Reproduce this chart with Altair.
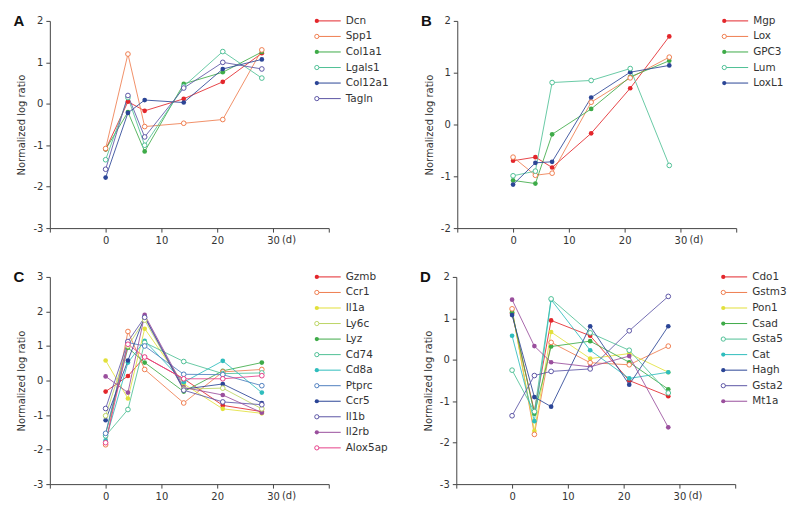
import altair as alt
import pandas as pd

days = [0, 4, 7, 14, 21, 28]

# Panel A
a_genes = ["Dcn", "Spp1", "Col1a1", "Lgals1", "Col12a1", "Tagln"]
a_filled = [True, False, True, False, True, False]
a_colors = ["#e3262b", "#ef7d4f", "#3eab48", "#4fc096", "#2b4596", "#5c55a5"]
a_dcn = [-1.10, 0.05, -0.17, 0.12, 0.53, 1.22]
a_spp1 = [-1.08, 1.20, -0.55, -0.47, -0.38, 1.30]
a_col1a1 = [-1.10, -0.20, -1.15, 0.48, 0.76, 1.25]
a_lgals1 = [-1.35, 0.15, -1.00, 0.42, 1.26, 0.62]
a_col12a1 = [-1.78, -0.22, 0.09, 0.03, 0.84, 1.07]
a_tagln = [-1.58, 0.20, -0.80, 0.38, 1.00, 0.84]
a_values = [a_dcn, a_spp1, a_col1a1, a_lgals1, a_col12a1, a_tagln]

# Panel B
b_genes = ["Mgp", "Lox", "GPC3", "Lum", "LoxL1"]
b_filled = [True, False, True, False, True]
b_colors = ["#e3262b", "#ef7d4f", "#3eab48", "#4fc096", "#2b4596"]
b_mgp = [-0.70, -0.63, -0.83, -0.17, 0.70, 1.70]
b_lox = [-0.63, -0.98, -0.94, 0.43, 0.90, 1.30]
b_gpc3 = [-1.08, -1.14, -0.19, 0.30, 0.92, 1.23]
b_lum = [-0.99, -0.90, 0.81, 0.85, 1.08, -0.79]
b_loxl1 = [-1.16, -0.74, -0.72, 0.52, 1.01, 1.14]
b_values = [b_mgp, b_lox, b_gpc3, b_lum, b_loxl1]

# Panel C
c_genes = ["Gzmb", "Ccr1", "Il1a", "Ly6c", "Lyz", "Cd74", "Cd8a", "Ptprc",
           "Ccr5", "Il1b", "Il2rb", "Alox5ap"]
c_filled = [True, False, True, False, True, False, True, False, True, False, True, False]
c_colors = ["#e3262b", "#ef7d4f", "#e2e03a", "#bcd565", "#3eab48", "#4fc096",
            "#2fbdbd", "#4f7fbf", "#2b4596", "#5c55a5", "#9a4f9d", "#e6408a"]
c_gzmb = [-0.32, 0.13, 0.68, 0.05, -0.72, -0.90]
c_ccr1 = [-1.86, 1.42, 0.32, -0.65, 0.25, 0.32]
c_il1a = [0.58, -0.52, 1.50, -0.10, -0.82, -0.95]
c_ly6c = [-1.02, 1.00, 1.75, -0.25, -0.22, -0.82]
c_lyz = [-1.55, 0.95, 0.52, -0.32, 0.28, 0.52]
c_cd74 = [-1.60, -0.84, 1.10, 0.55, 0.20, 0.22]
c_cd8a = [-1.73, 0.52, 1.15, -0.05, 0.57, -0.35]
c_ptprc = [-1.53, 1.10, 1.00, 0.18, 0.17, -0.15]
c_ccr5 = [-1.15, 0.58, 1.85, -0.25, -0.10, -0.65]
c_il1b = [-0.81, 1.13, 1.83, -0.28, -0.62, -0.70]
c_il2rb = [0.12, -0.35, 1.90, -0.20, -0.42, -0.93]
c_alox5ap = [-1.80, 1.05, 0.68, 0.05, 0.05, 0.14]
c_values = [c_gzmb, c_ccr1, c_il1a, c_ly6c, c_lyz, c_cd74, c_cd8a, c_ptprc,
            c_ccr5, c_il1b, c_il2rb, c_alox5ap]

# Panel D
d_genes = ["Cdo1", "Gstm3", "Pon1", "Csad", "Gsta5", "Cat", "Hagh", "Gsta2", "Mt1a"]
d_filled = [True, False, True, True, False, True, True, False, True]
d_colors = ["#e3262b", "#ef7d4f", "#e2e03a", "#3eab48", "#4fc096", "#2fbdbd",
            "#2b4596", "#5c55a5", "#9a4f9d"]
d_cdo1 = [1.12, -1.25, 0.95, 0.58, -0.50, -0.88]
d_gstm3 = [1.23, -1.80, 0.42, -0.07, -0.12, 0.33]
d_pon1 = [1.20, -1.72, 0.67, 0.03, 0.15, -0.30]
d_csad = [1.15, -1.30, 0.32, 0.45, -0.06, -0.71]
d_gsta5 = [-0.25, -1.25, 1.47, 0.65, 0.23, -0.80]
d_cat = [0.58, -1.48, 1.45, 0.23, -0.45, -0.30]
d_hagh = [1.08, -0.90, -1.13, 0.81, -0.60, 0.81]
d_gsta2 = [-1.35, -0.38, -0.28, -0.22, 0.70, 1.53]
d_mt1a = [1.45, 0.33, -0.06, -0.17, 0.09, -1.63]
d_values = [d_cdo1, d_gstm3, d_pon1, d_csad, d_gsta5, d_cat, d_hagh, d_gsta2, d_mt1a]

unit_day = [30]
unit_text = ["(d)"]

FONT = "DejaVu Sans"
W, H = 280, 208
LEG_STEP = 15.6


def panel(letter, genes, values, filled, colors, ymin, ymax):
    rows = []
    for g, vals, f, c in zip(genes, values, filled, colors):
        for d, v in zip(days, vals):
            rows.append({"gene": g, "day": d, "val": v, "filled": f, "col": c})
    df = pd.DataFrame(rows)
    ldf = pd.DataFrame({"gene": genes, "i": list(range(len(genes))),
                        "filled": filled, "col": colors})

    xaxis = alt.Axis(values=[-10, 0, 10, 20, 30, 40], title=None, grid=False,
                     labelExpr="(datum.value == -10 || datum.value == 40) ? '' : '' + datum.value",
                     tickSize=4, labelPadding=3)
    yaxis = alt.Axis(values=list(range(ymin, ymax + 1)), title="Normalized log ratio",
                     grid=False, labelExpr="'' + datum.value", tickSize=4, labelPadding=3,
                     titlePadding=6)
    xsc = alt.Scale(domain=[-10, 40], nice=False)
    ysc = alt.Scale(domain=[ymin, ymax], nice=False)
    x = alt.X("day:Q", scale=xsc, axis=xaxis)
    y = alt.Y("val:Q", scale=ysc, axis=yaxis)
    color = alt.Color("col:N", scale=None)

    base = alt.Chart(df)
    lines = base.mark_line(strokeWidth=1, opacity=0.85).encode(
        x=x, y=y, color=color, detail="gene:N", order="day:Q")
    pf = base.transform_filter("datum.filled").mark_point(
        filled=True, size=22, opacity=1).encode(x=x, y=y, color=color)
    po = base.transform_filter("!datum.filled").mark_point(
        filled=False, size=22, fill="white", fillOpacity=1, strokeWidth=1, opacity=1).encode(
        x=x, y=y, color=color)
    unit = alt.Chart(pd.DataFrame({"day": unit_day, "t": unit_text})).mark_text(
        align="left", baseline="top", font=FONT, fontSize=10, color="#333333", dx=9, dy=7
    ).encode(x=x, y=alt.value(H), text="t:N")
    main = alt.layer(lines, pf, po, unit)

    ly = alt.Y("i:Q", scale=alt.Scale(domain=[0, 1], range=[0, LEG_STEP]), axis=None)
    lbase = alt.Chart(ldf)
    lrule = lbase.mark_rule(strokeWidth=1).encode(
        x=alt.value(268), x2=alt.value(292), y=ly, color=color)
    lpf = lbase.transform_filter("datum.filled").mark_point(
        filled=True, size=18, opacity=1).encode(x=alt.value(268), y=ly, color=color)
    lpo = lbase.transform_filter("!datum.filled").mark_point(
        filled=False, size=18, fill="white", fillOpacity=1, strokeWidth=1, opacity=1).encode(
        x=alt.value(268), y=ly, color=color)
    ltext = lbase.mark_text(align="left", baseline="middle", font=FONT, fontSize=10.5,
                            color="#333333").encode(x=alt.value(297), y=ly, text="gene:N")
    lab = lbase.transform_filter("datum.i == 0").transform_calculate(
        letter=f"'{letter}'").mark_text(
        font="Liberation Sans", fontWeight="bold", fontSize=15, align="center",
        baseline="middle", color="#111111", dx=-299).encode(
        x=alt.value(268), y=ly, text="letter:N")
    leg = alt.layer(lrule, lpf, lpo, ltext, lab)

    return alt.layer(main, leg).resolve_scale(y="independent").properties(
        width=W, height=H)


pa = panel("A", a_genes, a_values, a_filled, a_colors, -3, 2)
pb = panel("B", b_genes, b_values, b_filled, b_colors, -2, 2)
pc = panel("C", c_genes, c_values, c_filled, c_colors, -3, 3)
pd_ = panel("D", d_genes, d_values, d_filled, d_colors, -3, 2)

chart = alt.vconcat(
    alt.hconcat(pa, pb, spacing=31),
    alt.hconcat(pc, pd_, spacing=31),
    spacing=25,
).configure_view(stroke=None).configure_axis(
    domainColor="#444444", tickColor="#444444", labelColor="#333333",
    titleColor="#333333", labelFont=FONT, titleFont=FONT, labelFontSize=10,
    titleFontSize=10, titleFontWeight="normal"
).properties(background="white", padding={"left": 5, "top": 5, "right": 5, "bottom": 0})

chart.save("out.html", embed_options={"renderer": "svg", "actions": False})
